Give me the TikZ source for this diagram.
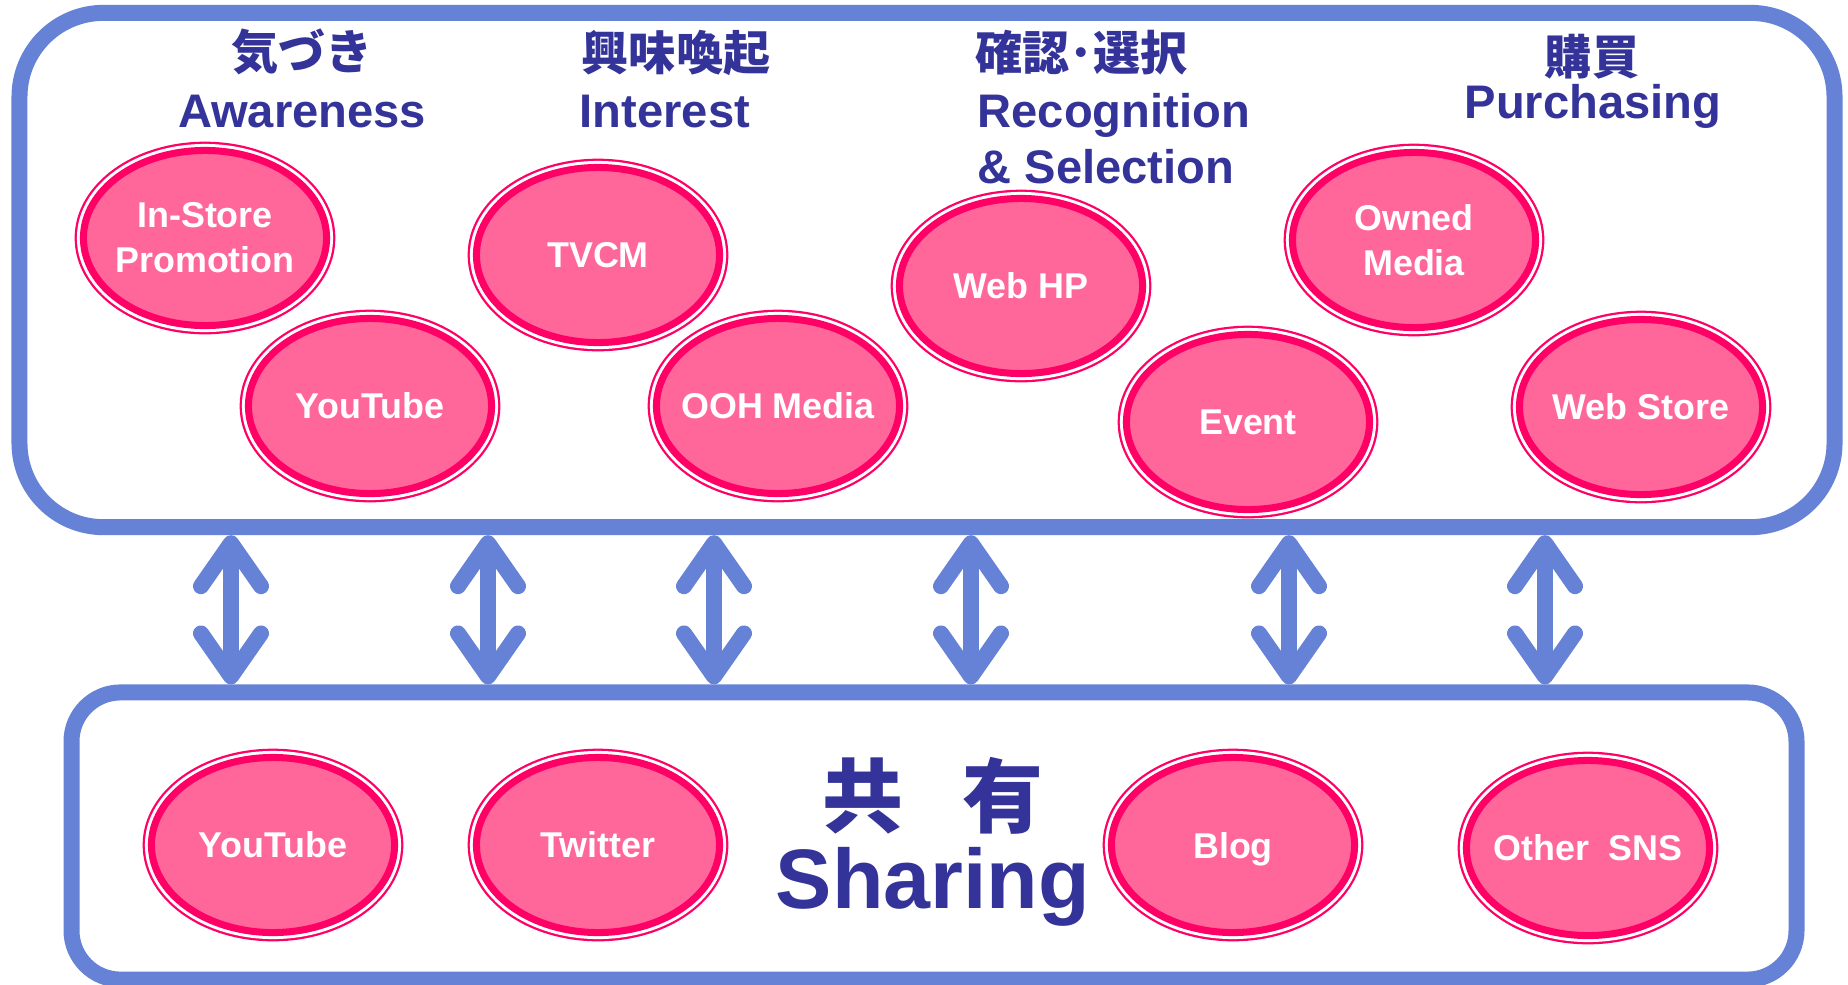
\documentclass[tikz,border=0pt]{standalone}
\usepackage{fontspec}
\setmainfont{Liberation Sans}
\newfontfamily\jpfont{Noto Sans CJK JP}
\usetikzlibrary{shapes.geometric,arrows.meta}

\begin{document}
\begin{tikzpicture}[x=0.01cm, y=-0.01cm,
    frame/.style={draw=framecol, line width=4.55pt},
    medium/.style={ellipse, minimum width=2.43cm, minimum height=1.75cm, inner sep=0pt,
      fill=bubblecol, draw=ringcol, line width=2pt,
      preaction={draw=ringcol, line width=5pt},
      preaction={draw=white, line width=3.7pt}},
    mtext/.style={text=white, font=\bfseries\fontsize{10.2}{12.8}\selectfont, align=center},
    head/.style={text=titlecol, inner sep=0pt, font=\bfseries\fontsize{13.4}{16}\selectfont},
    headjp/.style={head, font=\jpfont\bfseries\fontsize{13.4}{16}\selectfont},
    updown/.style={draw=framecol, line width=4.55pt,
      {Straight Barb[length=4.3mm, width=6mm, round]}-{Straight Barb[length=4.3mm, width=6mm, round]}}]

      % Colors
      \definecolor{framecol}{RGB}{102,130,214}
      \definecolor{titlecol}{RGB}{51,51,153}
      \definecolor{ringcol}{RGB}{255,0,102}
      \definecolor{bubblecol}{RGB}{255,102,153}

      \useasboundingbox (0,0) rectangle (1848,984);

      % Frames
      \node[frame, rounded corners=0.84cm, minimum width=18.14cm, minimum height=5.14cm] (stages) at (927,270) {};
      \node[frame, rounded corners=0.49cm, minimum width=17.24cm, minimum height=2.87cm] (sharing) at (934,836) {};

      % Stage headings
      \node[headjp] (aw-jp) at (302,52) {気づき};
      \node[head, anchor=base] (aw-en) at (302,127) {Awareness};
      \node[headjp] (in-jp) at (676,53) {興味喚起};
      \node[head, anchor=base west] (in-en) at (579,127) {Interest};
      \node[headjp, anchor=west] (re-jp) at (975,53) {確認･選択};
      \node[head, anchor=base west] (re-en) at (977,127) {Recognition};
      \node[head, anchor=base west] (re-en2) at (977,183) {\& Selection};
      \node[headjp] (pu-jp) at (1592,57) {購買};
      \node[head, anchor=base] (pu-en) at (1593,118) {Purchasing};

      % Media
      \node[medium, label={[mtext]center:In-Store\\Promotion}] (instore) at (205,238) {};
      \node[medium, label={[mtext]center:YouTube}] (youtube) at (370,406) {};
      \node[medium, label={[mtext]center:TVCM}] (tvcm) at (598,255) {};
      \node[medium, label={[mtext]center:OOH Media}] (ooh) at (778,406) {};
      \node[medium, label={[mtext]center:Web HP}] (webhp) at (1021,286) {};
      \node[medium, label={[mtext]center:Event}] (event) at (1248,422) {};
      \node[medium, label={[mtext]center:Owned\\Media}] (owned) at (1414,240) {};
      \node[medium, label={[mtext]center:Web Store}] (webstore) at (1641,407) {};

      % Sharing
      \node[medium, label={[mtext]center:YouTube}] (youtube2) at (273,845) {};
      \node[medium, label={[mtext]center:Twitter}] (twitter) at (598,845) {};
      \node[medium, label={[mtext, text depth=0pt]center:Blog}] (blog) at (1233,845) {};
      \node[medium, label={[mtext]center:Other~~SNS}] (othersns) at (1588,848) {};

      \node[headjp, font=\jpfont\bfseries\fontsize{23}{26}\selectfont] (share-jp) at (933,796) {共\hspace{0.74em}有};
      \node[head, font=\bfseries\fontsize{24}{28}\selectfont, anchor=base] (share-en) at (933,908) {Sharing};

      % Arrows between frames
      \foreach \x [count=\i] in {231,488,714,971,1289,1545} {
        \coordinate (c\i) at (\x,0);
        \draw[updown] (stages.south -| c\i) -- (sharing.north -| c\i);
      }

    \end{tikzpicture}
\end{document}
